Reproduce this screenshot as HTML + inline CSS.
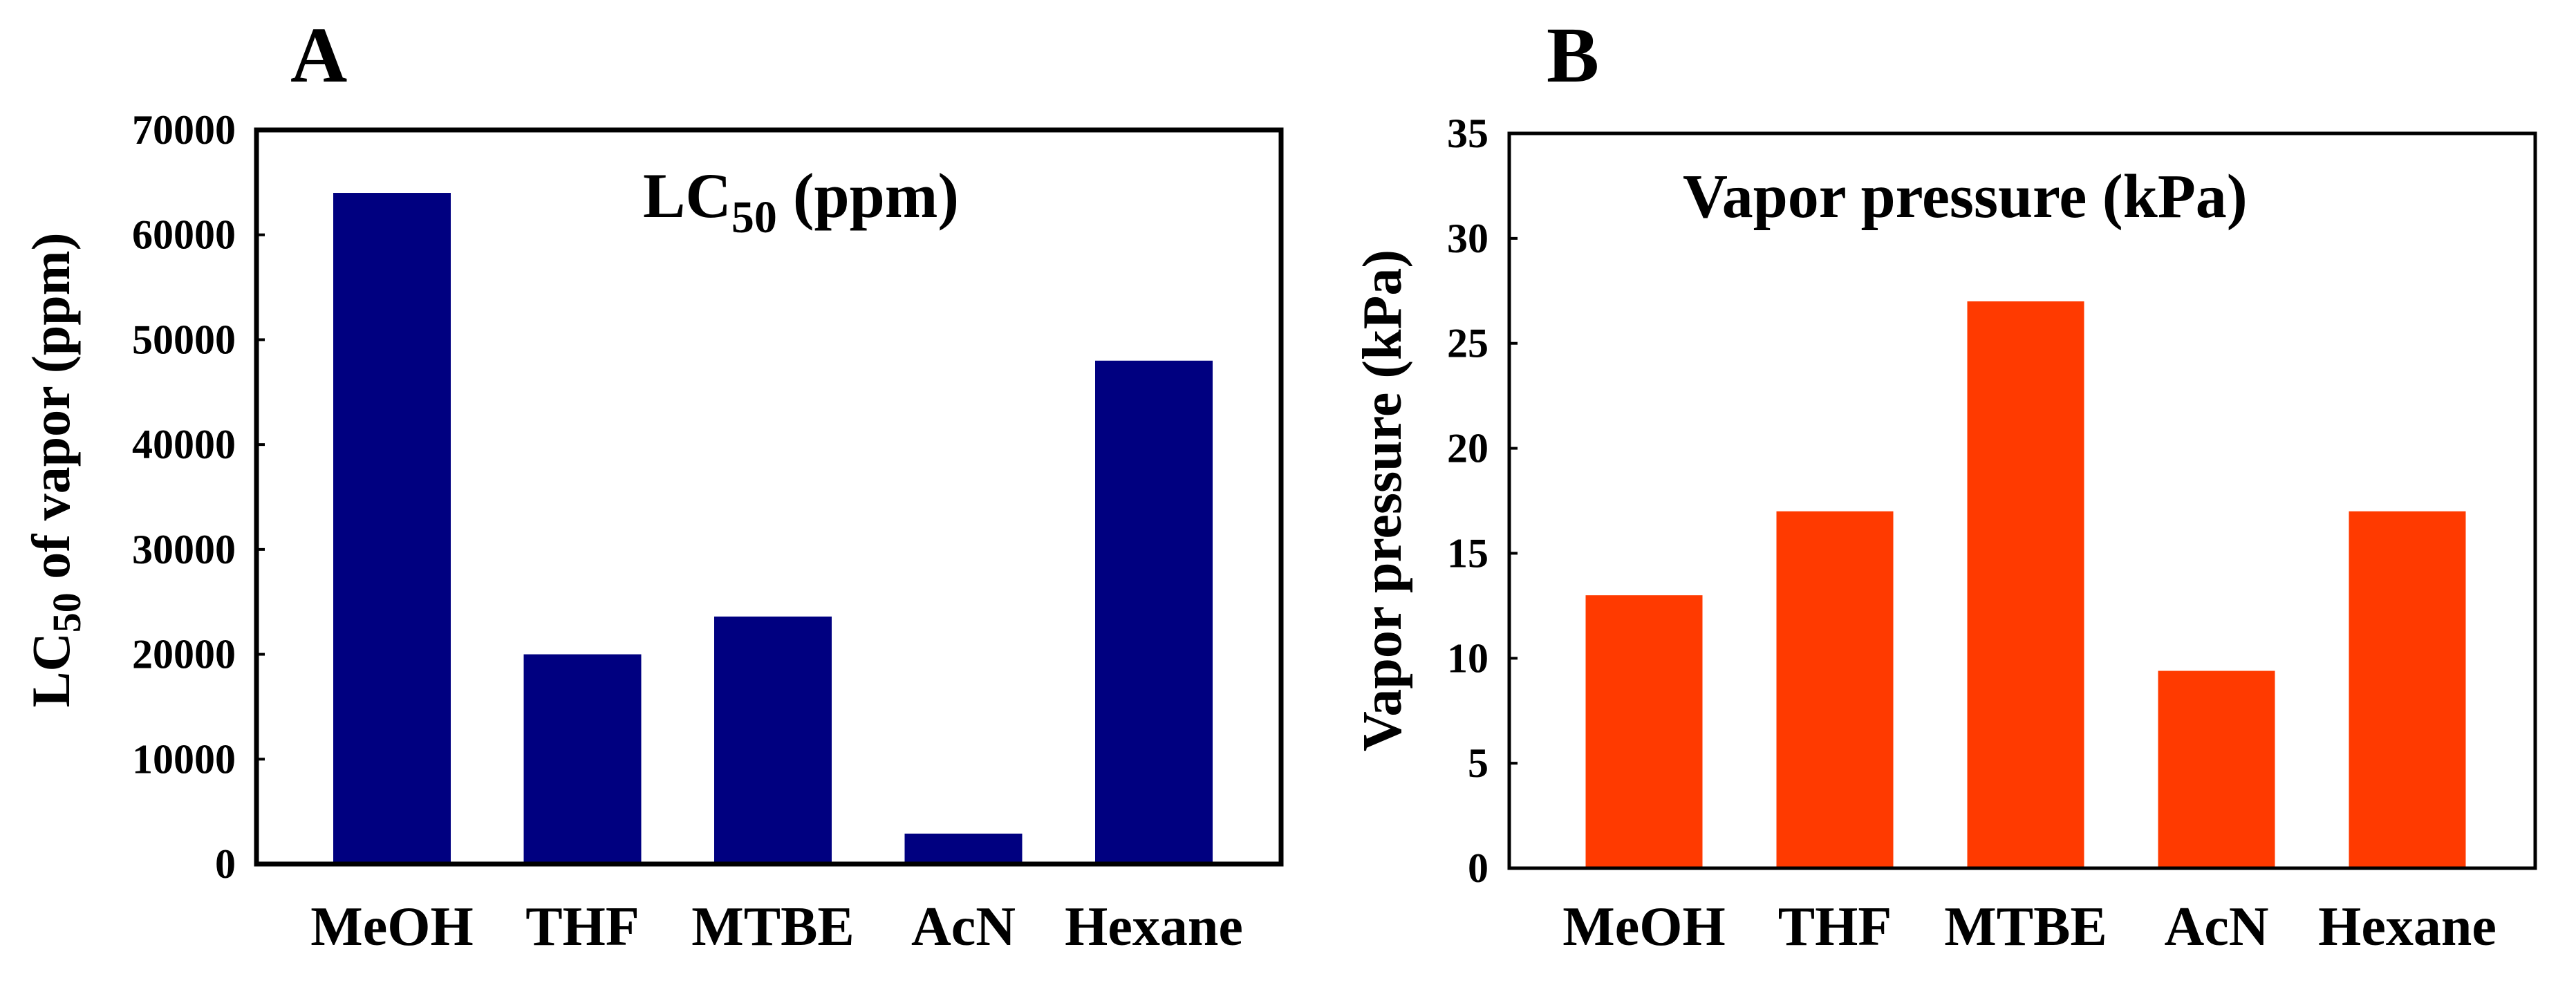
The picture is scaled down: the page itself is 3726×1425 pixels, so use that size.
<!DOCTYPE html>
<html><head><meta charset="utf-8">
<style>
html,body{margin:0;padding:0;background:#fff;}
svg{display:block;}
text{font-family:"Liberation Serif",serif;font-weight:bold;fill:#000;}
</style></head>
<body>
<svg id="fig" width="3726" height="1425" viewBox="0 0 3726 1425" xmlns="http://www.w3.org/2000/svg">
<text x="420" y="118" font-size="114">A</text>
<text x="2237" y="118" font-size="114">B</text>
<text x="930" y="314" font-size="92">LC<tspan font-size="66" dy="22">50</tspan><tspan dy="-22"> (ppm)</tspan></text>
<text x="2434" y="314" font-size="90">Vapor pressure (kPa)</text>
<text transform="translate(100,680) rotate(-90)" text-anchor="middle" font-size="78">LC<tspan font-size="58" dy="16">50</tspan><tspan dy="-16"> of vapor (ppm)</tspan></text>
<text transform="translate(2026,724) rotate(-90)" text-anchor="middle" font-size="80">Vapor pressure (kPa)</text>
<g id="ga"></g>
<g id="gb"></g>
</svg>
<script>
const categories = ["MeOH","THF","MTBE","AcN","Hexane"];
const lc50Values = [64000,20000,23600,2900,48000];
const vaporValues = [13,17,27,9.4,17];
const lc50Ticks = [0,10000,20000,30000,40000,50000,60000,70000];
const vaporTicks = [0,5,10,15,20,25,30,35];
const NS="http://www.w3.org/2000/svg";
function mk(tag,attrs,parent){const e=document.createElementNS(NS,tag);for(const k in attrs)e.setAttribute(k,attrs[k]);parent.appendChild(e);return e;}
function drawChart(g,cfg,values,ticks,prefix){
  const y=v=>cfg.bottom-(v-cfg.min)/(cfg.max-cfg.min)*(cfg.bottom-cfg.top);
  const x=i=>cfg.firstCenter+i*cfg.step;
  values.forEach((v,i)=>{
    const r=mk('rect',{x:x(i)-cfg.barW/2,y:y(v),width:cfg.barW,height:cfg.bottom-y(v),fill:cfg.color},g);
    
    
  });
  ticks.forEach(t=>{
    const l=mk('line',{x1:cfg.left,x2:cfg.left+12,y1:y(t),y2:y(t),stroke:'#000','stroke-width':4},g);
    
    
    const tx=mk('text',{x:cfg.labelRight,y:y(t)+20,'text-anchor':'end','font-size':60},g);
    tx.textContent=t;
    
    
  });
  categories.forEach((c,i)=>{
    const tx=mk('text',{x:x(i),y:1367,'text-anchor':'middle','font-size':80},g);
    tx.textContent=c;
    
    
  });
  const fr=mk('rect',{x:cfg.left,y:cfg.top,width:cfg.right-cfg.left,height:cfg.bottom-cfg.top,fill:'none',stroke:'#000','stroke-width':cfg.sw},g);
  
  
}
drawChart(document.getElementById('ga'),{left:371,right:1853,top:188,bottom:1250,min:0,max:70000,firstCenter:567,step:275.5,barW:170,color:'#000080',labelRight:341,sw:7},lc50Values,lc50Ticks,'chart-a');
drawChart(document.getElementById('gb'),{left:2183,right:3667,top:193,bottom:1256,min:0,max:35,firstCenter:2378,step:276,barW:169,color:'#FF3A00',labelRight:2153,sw:5},vaporValues,vaporTicks,'chart-b');
</script>
</body></html>
